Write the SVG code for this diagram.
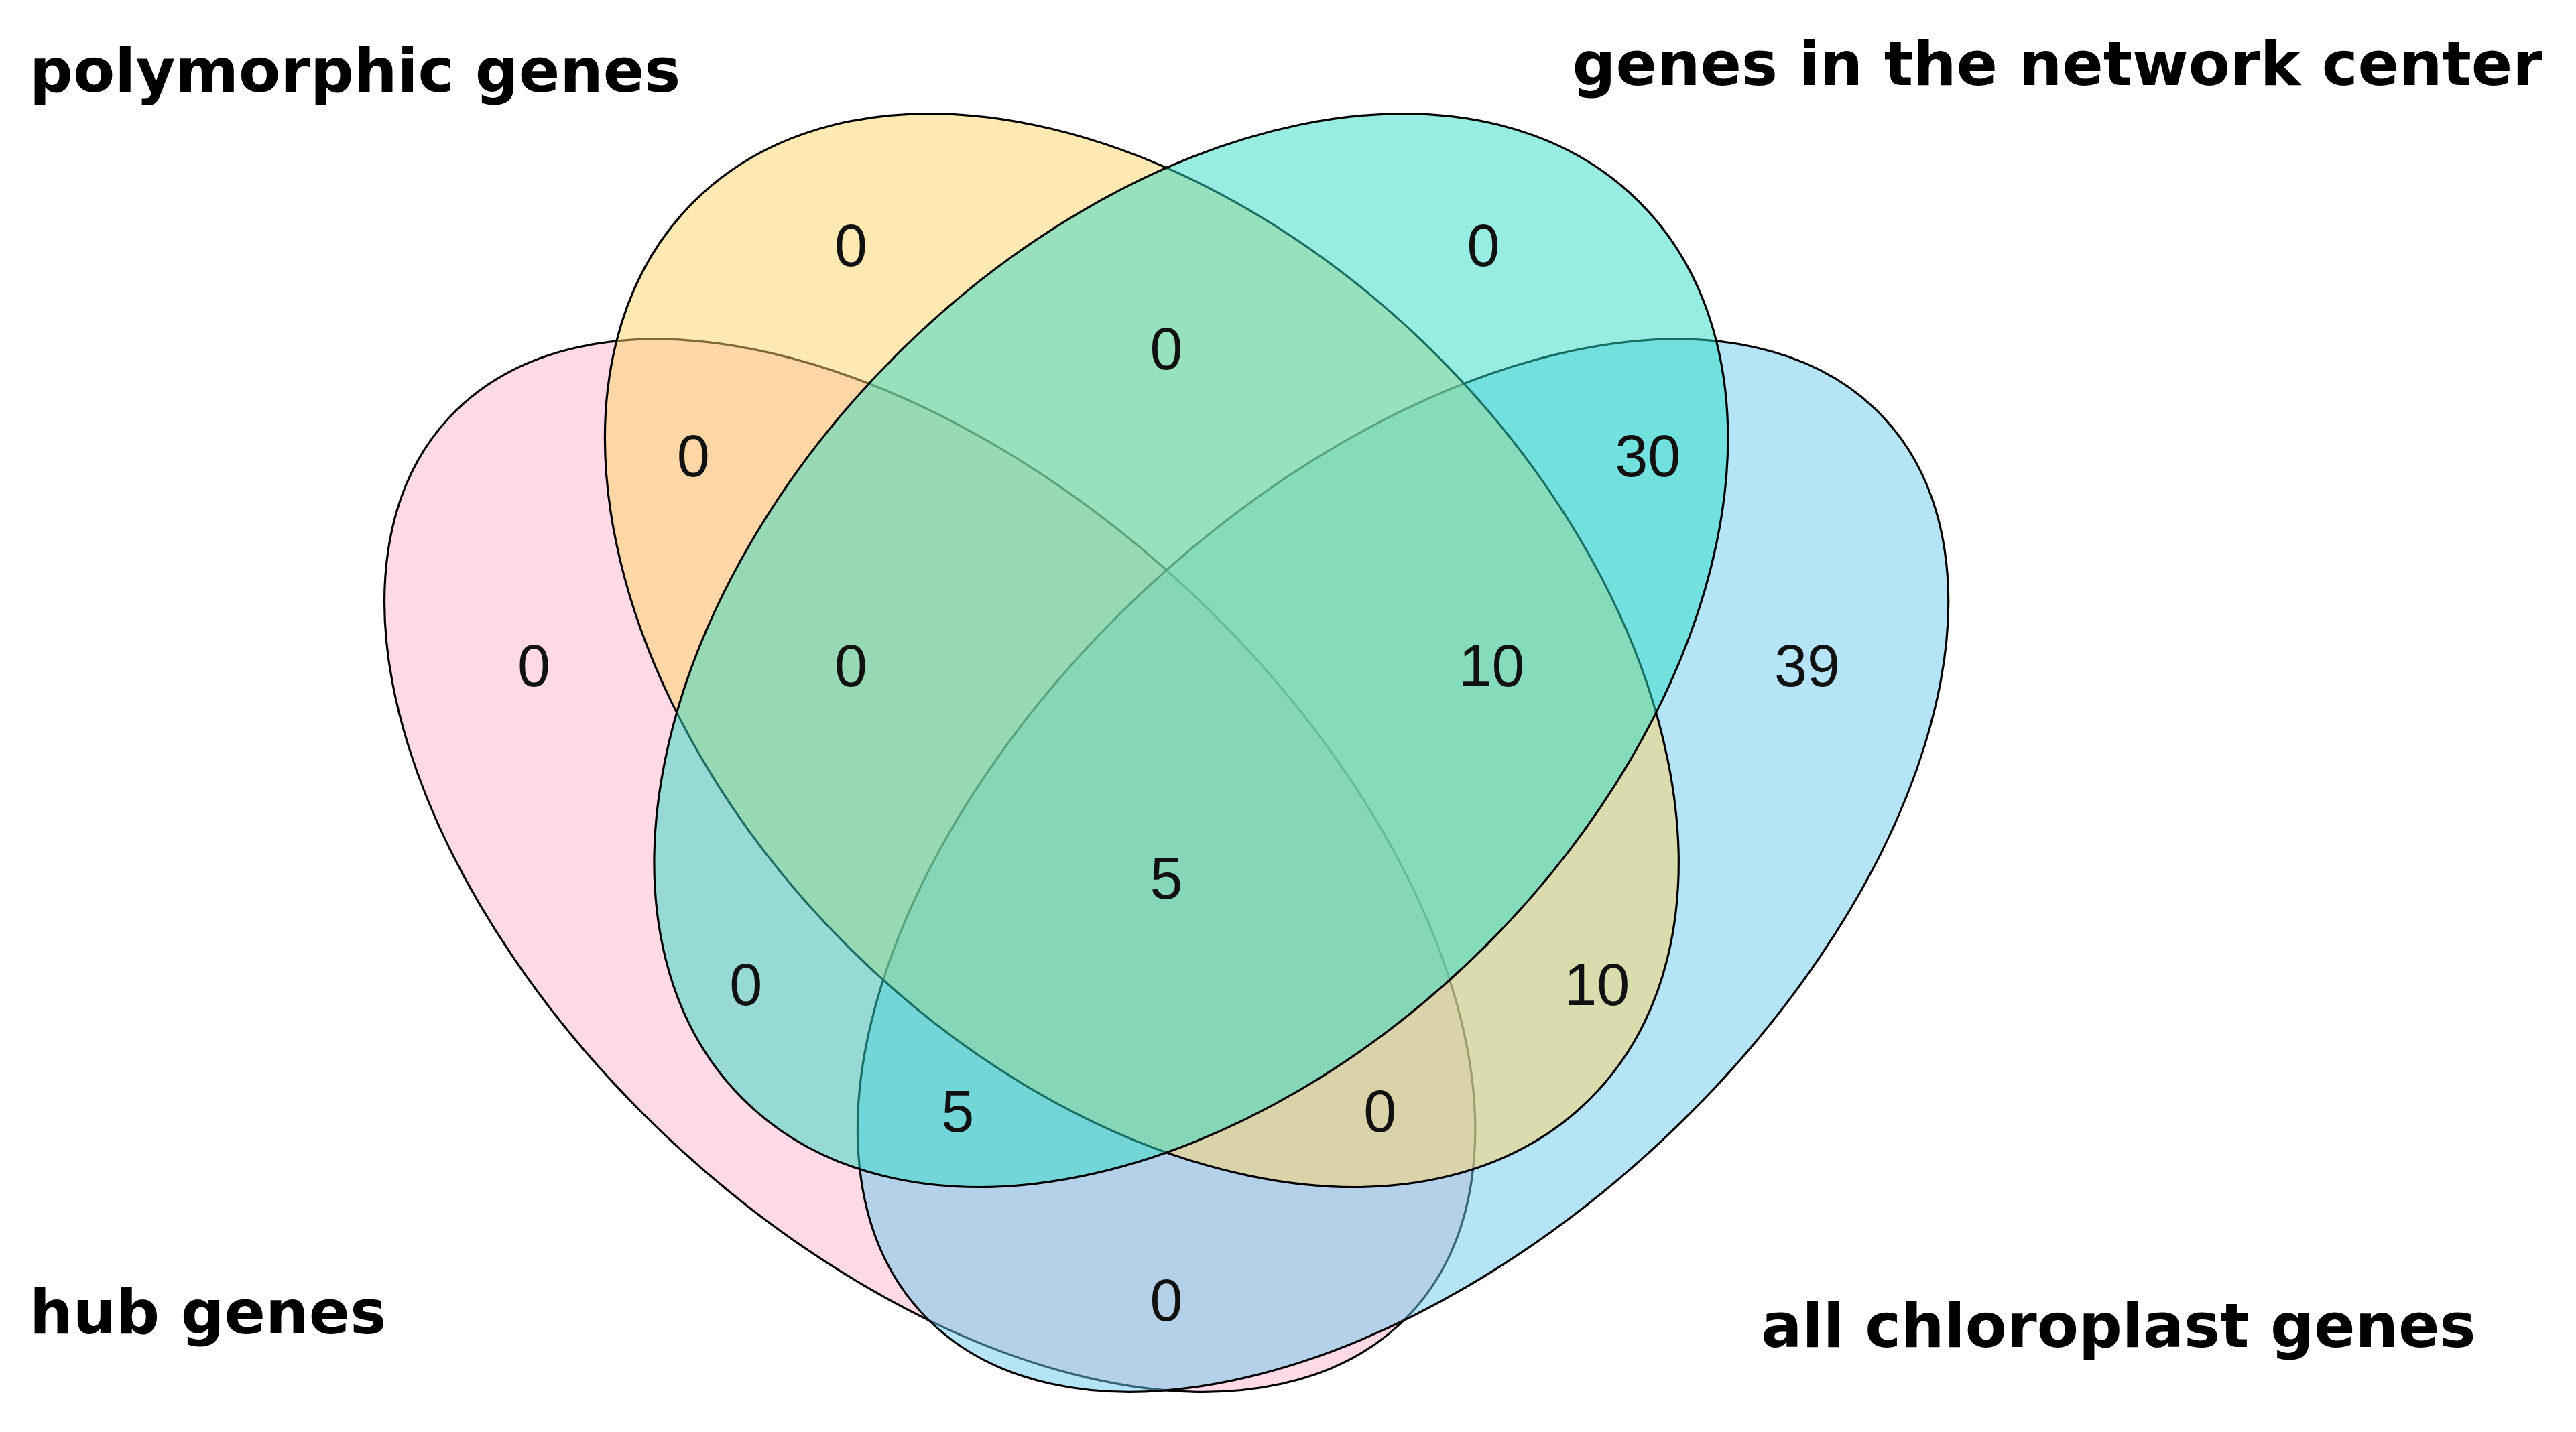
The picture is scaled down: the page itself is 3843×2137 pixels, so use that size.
<svg xmlns="http://www.w3.org/2000/svg" width="3843" height="2137" viewBox="0 0 3843 2137">
<style>
.e{stroke:#000;stroke-width:1.3;fill-opacity:0.5}
.n{font-family:"Liberation Sans",Arial,sans-serif;font-size:36px;text-anchor:middle;fill:#111}
.t{font-family:"DejaVu Sans",Verdana,sans-serif;font-size:37px;font-weight:bold;fill:#000}
</style>
<rect width="3843" height="2137" fill="#fff"/>
<g transform="scale(2.4509)">
<g id="hub"><ellipse class="e" cx="566" cy="527" rx="400" ry="230" transform="rotate(43 566 527)" fill="#FFB3CB"/></g>
<g id="chloroplast"><ellipse class="e" cx="854" cy="527" rx="400" ry="230" transform="rotate(-43 854 527)" fill="#6CC9F0"/></g>
<g id="polymorphic"><ellipse class="e" cx="695" cy="396" rx="386" ry="254" transform="rotate(45 695 396)" fill="#FFD466"/></g>
<g id="network"><ellipse class="e" cx="725" cy="396" rx="386" ry="254" transform="rotate(-45 725 396)" fill="#2FDCC6"/></g>
<g id="connectors"></g>
<g id="labels">
<text class="t" x="18" y="56">polymorphic genes</text>
<text class="t" x="957" y="52">genes in the network center</text>
<text class="t" x="18" y="812">hub genes</text>
<text class="t" x="1072" y="820">all chloroplast genes</text>
<text class="n" x="518" y="162">0</text>
<text class="n" x="903" y="162">0</text>
<text class="n" x="710" y="225">0</text>
<text class="n" x="422" y="290">0</text>
<text class="n" x="1003" y="290">30</text>
<text class="n" x="325" y="418">0</text>
<text class="n" x="518" y="418">0</text>
<text class="n" x="908" y="418">10</text>
<text class="n" x="1100" y="418">39</text>
<text class="n" x="710" y="547">5</text>
<text class="n" x="454" y="612">0</text>
<text class="n" x="972" y="612">10</text>
<text class="n" x="583" y="689">5</text>
<text class="n" x="840" y="689">0</text>
<text class="n" x="710" y="804">0</text>
</g>
</g>
</svg>
